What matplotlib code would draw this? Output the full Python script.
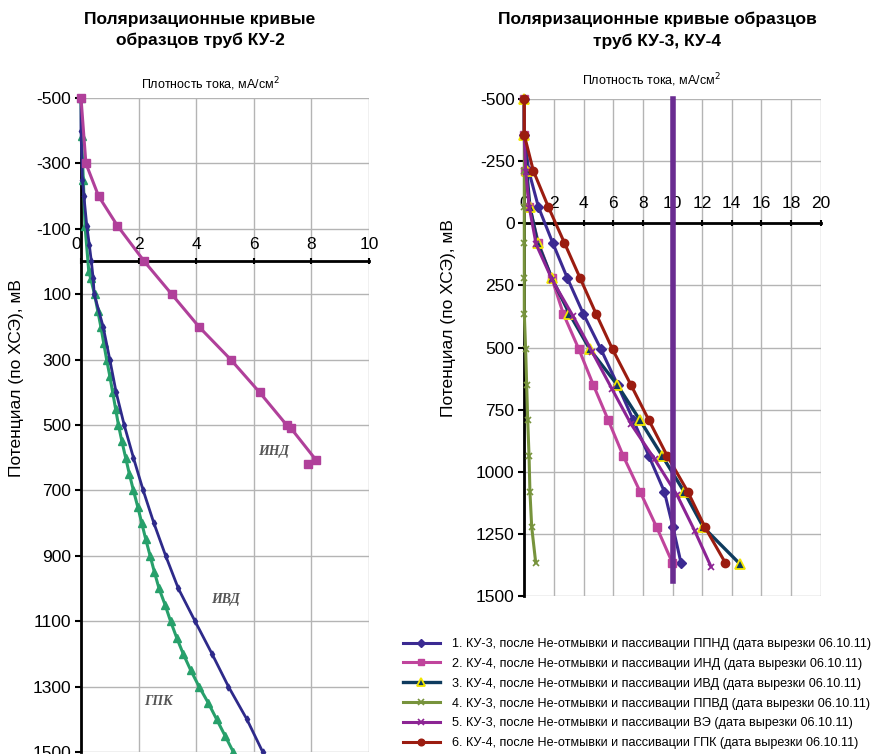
import numpy as np
import matplotlib
matplotlib.use('Agg')
import matplotlib.pyplot as plt

plt.rcParams['font.family'] = ['Liberation Sans', 'DejaVu Sans']
plt.rcParams['axes.unicode_minus'] = False

# ---- left chart (КУ-2) ----
ind_y = [-500, -300, -200, -110, 0, 100, 200, 300, 400, 500, 510, 607, 618]
ind_x = [0, 0.17, 0.61, 1.26, 2.2, 3.15, 4.1, 5.2, 6.2, 7.14, 7.29, 8.16, 7.88]

ivd_y = [-500, -400, -250, -200, -110, -50, 0, 50, 100, 200, 300, 400, 500, 600,
         700, 800, 900, 1000, 1100, 1200, 1300, 1400, 1500]
ivd_x = [0, 0, 0.05, 0.1, 0.2, 0.29, 0.36, 0.42, 0.46, 0.77, 1.0, 1.22, 1.5, 1.82,
         2.16, 2.53, 2.94, 3.38, 3.96, 4.55, 5.12, 5.76, 6.31]

gpk_y = [-500, -385, -250, -108, 30, 50, 100, 150, 200, 250, 300, 350, 400, 450, 500,
         550, 600, 650, 700, 750, 800, 850, 900, 950, 1000, 1050, 1100, 1150, 1200,
         1250, 1300, 1350, 1400, 1450, 1500]
gpk_x = [0, 0.02, 0.08, 0.14, 0.27, 0.33, 0.47, 0.58, 0.69, 0.79, 0.89, 1.0, 1.1, 1.2,
         1.3, 1.42, 1.55, 1.68, 1.82, 1.97, 2.11, 2.25, 2.4, 2.55, 2.71, 2.92, 3.11,
         3.32, 3.55, 3.81, 4.1, 4.42, 4.71, 5.0, 5.29]

left_yticks = [-500, -300, -100, 100, 300, 500, 700, 900, 1100, 1300, 1500]
left_xticks = [0, 2, 4, 6, 8, 10]

# ---- right chart (КУ-3, КУ-4) ----
pot = [-500, -355, -211, -66, 78, 220, 364, 508, 651, 793, 937, 1080, 1223, 1366]
s1_x = [0, 0, 0.3, 0.95, 1.91, 2.9, 3.98, 5.18, 6.3, 7.36, 8.41, 9.45, 10.03, 10.57]
s2_x = [0, 0, 0.05, 0.35, 0.95, 1.85, 2.63, 3.69, 4.66, 5.67, 6.68, 7.81, 8.93, 9.99]
s3_y = [-500, -355, -211, -66, 78, 220, 364, 508, 651, 793, 937, 1080, 1223, 1371]
s3_x = [0, 0, 0.16, 0.38, 0.9, 1.85, 3.04, 4.43, 6.28, 7.81, 9.31, 10.78, 12.08, 14.55]
s4_x = [0, 0, 0, 0, 0, 0, 0, 0.09, 0.16, 0.23, 0.32, 0.38, 0.5, 0.77]
s5_y = [-500, -350, -205, -60, 85, 230, 375, 520, 665, 808, 950, 1093, 1238, 1382]
s5_x = [0, 0, 0.1, 0.35, 0.8, 1.9, 3.3, 4.6, 5.9, 7.2, 8.8, 10.3, 11.5, 12.6]
s6_x = [0, 0, 0.61, 1.62, 2.7, 3.76, 4.84, 5.96, 7.2, 8.41, 9.65, 11.03, 12.19, 13.56]
vline_x = [10, 10]
vline_y = [-500, 1440]

right_yticks = [-500, -250, 0, 250, 500, 750, 1000, 1250, 1500]
right_xticks = list(range(0, 21, 2))

legend_labels = [
    '1. КУ-3, после Не-отмывки и пассивации ППНД (дата вырезки 06.10.11)',
    '2. КУ-4, после Не-отмывки и пассивации ИНД (дата вырезки 06.10.11)',
    '3. КУ-4, после Не-отмывки и пассивации ИВД (дата вырезки 06.10.11)',
    '4. КУ-3, после Не-отмывки и пассивации ППВД (дата вырезки 06.10.11)',
    '5. КУ-3, после Не-отмывки и пассивации ВЭ (дата вырезки 06.10.11)',
    '6. КУ-4, после Не-отмывки и пассивации ГПК (дата вырезки 06.10.11)',
]

narrow = ['Liberation Sans Narrow', 'Liberation Sans', 'DejaVu Sans']


def style_axes(ax, xticks, yticks, xlim, ylim, xpad):
    ax.set_xlim(*xlim)
    ax.set_ylim(*ylim)
    ax.set_xticks(xticks)
    ax.set_yticks(yticks)
    ax.grid(True, color='#b4b4b4', lw=1)
    ax.set_axisbelow(True)
    ax.spines['top'].set_position(('data', 0))
    ax.spines['top'].set_linewidth(2)
    ax.spines['left'].set_linewidth(2)
    ax.spines['right'].set_visible(False)
    ax.spines['bottom'].set_visible(False)
    ax.xaxis.set_ticks_position('top')
    ax.tick_params(axis='x', direction='inout', length=5, width=1.5, pad=xpad, labelsize=12.5)
    ax.tick_params(axis='y', direction='out', length=4, width=1.5, pad=3, labelsize=12.5)


fig = plt.figure(figsize=(8.77, 7.54), dpi=100)

# left
ax1 = fig.add_axes([81 / 877, 1 - 752 / 754, 288 / 877, 654 / 754])
style_axes(ax1, left_xticks, left_yticks, (0, 10), (1500, -500), 4)
ax1.get_xticklabels()[0].set_horizontalalignment('right')
ax1.plot(ind_x, ind_y, color='#b0409a', lw=2.2, marker='s', ms=5.5, clip_on=False, zorder=4)
ax1.plot(gpk_x, gpk_y, color='#27a06b', lw=2.2, marker='^', ms=5.5, clip_on=False, zorder=3)
ax1.plot(ivd_x, ivd_y, color='#2e2a8a', lw=2.0, marker='d', ms=3.5, clip_on=False, zorder=3)

lab_kw = dict(fontsize=10, fontweight='bold', fontstyle='italic', color='#555555',
              family=['Liberation Serif', 'DejaVu Serif'], ha='center', va='center')
ax1.text(6.67, 580, 'ИНД', **lab_kw)
ax1.text(5.0, 1035, 'ИВД', **lab_kw)
ax1.text(2.67, 1347, 'ГПК', **lab_kw)

# right
ax2 = fig.add_axes([524.3 / 877, 1 - 596 / 754, 296.4 / 877, 497 / 754])
style_axes(ax2, right_xticks, right_yticks, (0, 20), (1500, -500), 6)
h1, = ax2.plot(s1_x, pot, color='#3b2a92', lw=2.2, marker='D', ms=5.5, clip_on=False, zorder=3)
h2, = ax2.plot(s2_x, pot, color='#c0449c', lw=2.2, marker='s', ms=6, clip_on=False, zorder=3)
h3, = ax2.plot(s3_x, s3_y, color='#0e3b5e', lw=2.4, marker='^', ms=6.5, mfc='#0e3b5e',
               mec='#f2e600', mew=1.3, clip_on=False, zorder=3)
h4, = ax2.plot(s4_x, pot, color='#77933c', lw=2.2, marker='x', ms=5, mew=1.2, clip_on=False, zorder=3)
h5, = ax2.plot(s5_x, s5_y, color='#8c2494', lw=2.2, marker='x', ms=5, mew=1.2, clip_on=False, zorder=3)
h6, = ax2.plot(s6_x, pot, color='#9b1c10', lw=2.2, marker='o', ms=6, clip_on=False, zorder=3)
ax2.plot(vline_x, vline_y, color='#6a2c91', lw=4, clip_on=False, zorder=5)

# titles and axis captions
fig.text(200 / 877, 1 - 30 / 754, 'Поляризационные кривые\nобразцов труб КУ-2', ha='center',
         va='center', fontsize=12.5, fontweight='bold', family=narrow, linespacing=1.5)
fig.text(657 / 877, 1 - 30 / 754, 'Поляризационные кривые образцов\nтруб КУ-3, КУ-4', ha='center',
         va='center', fontsize=12.5, fontweight='bold', family=narrow, linespacing=1.5)
fig.text(210 / 877, 1 - 84 / 754, 'Плотность тока, мА/см$^2$', ha='center', va='center',
         fontsize=9, family=narrow)
fig.text(651 / 877, 1 - 80 / 754, 'Плотность тока, мА/см$^2$', ha='center', va='center',
         fontsize=9, family=narrow)
fig.text(17 / 877, 1 - 378 / 754, 'Потенциал (по ХСЭ), мВ', rotation=90, ha='center',
         va='center', fontsize=12.5)
fig.text(448 / 877, 1 - 318 / 754, 'Потенциал (по ХСЭ), мВ', rotation=90, ha='center',
         va='center', fontsize=12.5)

fig.legend([h1, h2, h3, h4, h5, h6], legend_labels, loc='upper left',
           bbox_to_anchor=(403 / 877, 1 - 638 / 754), frameon=False, fontsize=9.1,
           handlelength=2.9, handletextpad=1.0, labelspacing=0.62, borderaxespad=0,
           borderpad=0, markerscale=0.8)

fig.savefig('out.png', dpi=100)
